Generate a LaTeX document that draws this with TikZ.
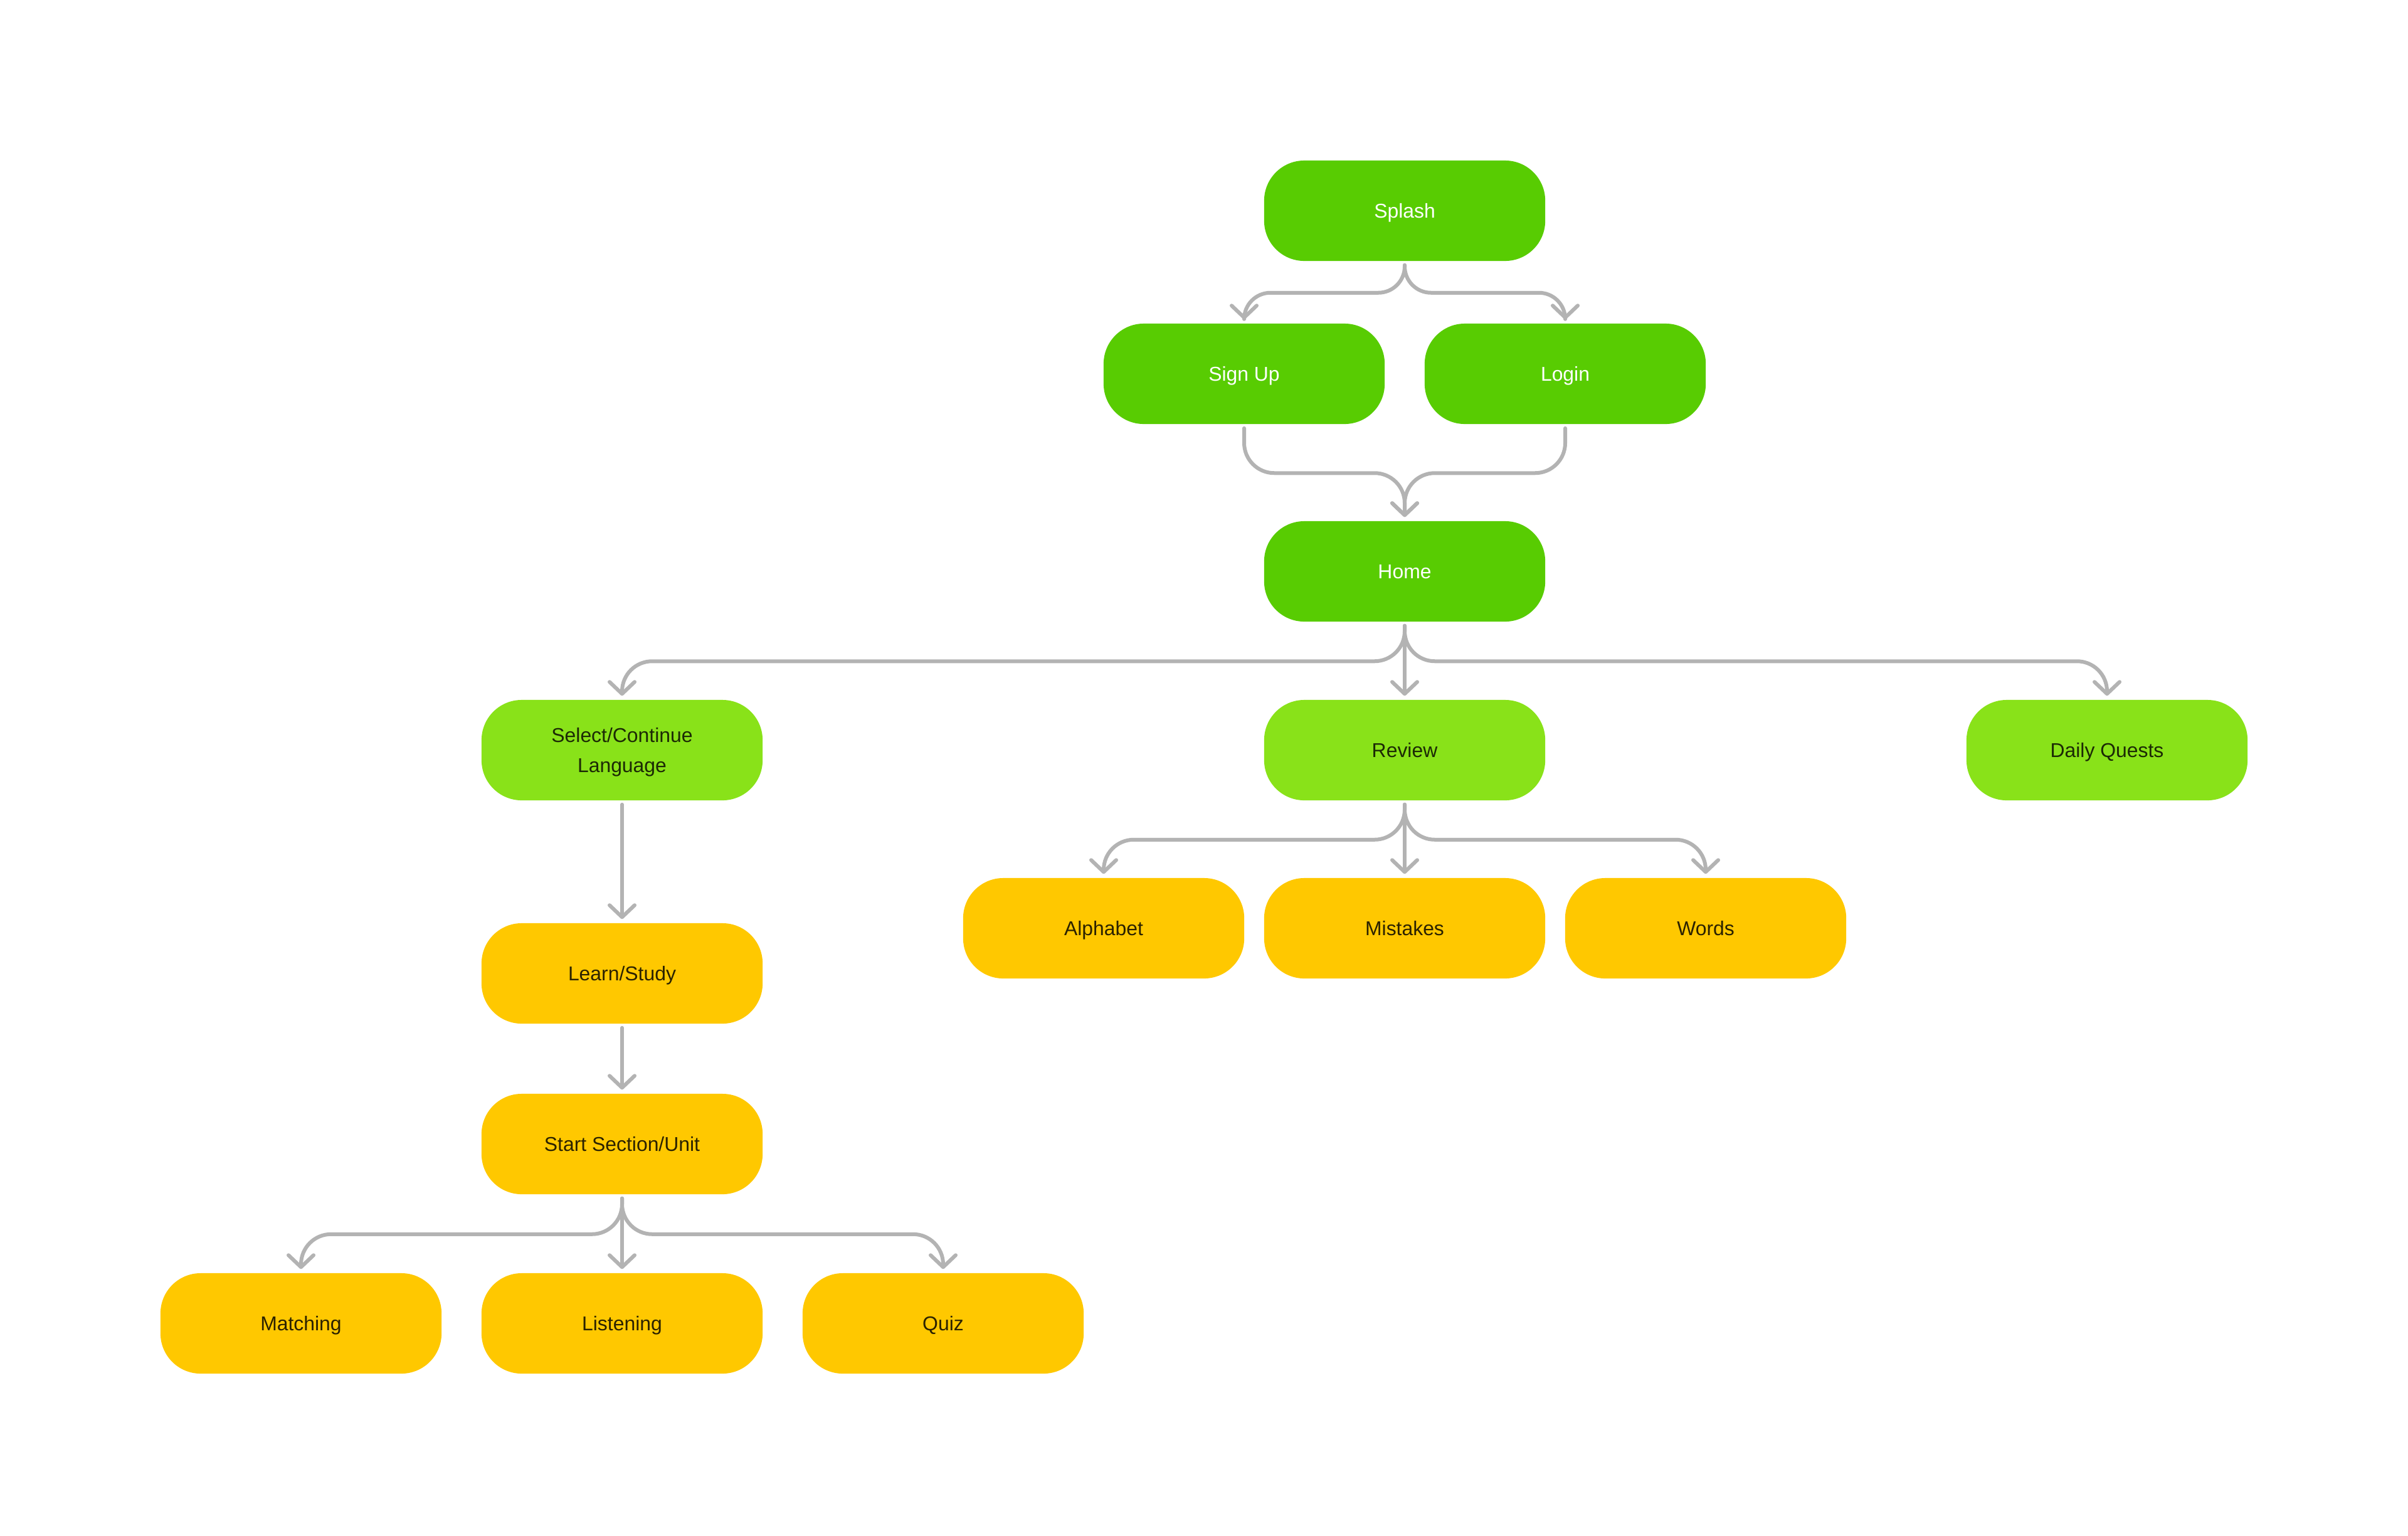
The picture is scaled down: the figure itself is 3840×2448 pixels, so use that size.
\documentclass[tikz,border=0pt]{standalone}
\usepackage{fontspec}
\setmainfont{Liberation Sans}
\usetikzlibrary{arrows.meta,calc}
\definecolor{dkgreen}{HTML}{58CC02}
\definecolor{ltgreen}{HTML}{89E219}
\definecolor{beeyel}{HTML}{FFC800}
\definecolor{conngray}{HTML}{B3B3B3}
\definecolor{dktext}{HTML}{1C2A05}
\definecolor{yltext}{HTML}{2B2200}
\tikzset{
  boxbase/.style={rectangle, rounded corners=0.64cm, minimum width=4.48cm, minimum height=1.6cm,
    inner sep=0pt, align=center, text height=6.5pt, text depth=0pt,
    font=\fontsize{9.07}{13.6}\selectfont},
  dkbox/.style={boxbase, fill=dkgreen, text=white},
  ltbox/.style={boxbase, fill=ltgreen, text=dktext},
  ylbox/.style={boxbase, fill=beeyel, text=yltext},
  conn/.style={draw=conngray, line width=0.06cm, line cap=round, line join=round,
    -{Straight Barb[round, length=0.19cm, width=0.40cm]}},
}
\newcommand{\branchto}[4]{\draw[conn, rounded corners=#4] ($(#1.south)+(0,6)$) -- ++(0,#3) -| ($(#2.north)+(0,-6)$);}
\newcommand{\straightto}[2]{\draw[conn] ($(#1.south)+(0,6)$) -- ($(#2.north)+(0,-6)$);}
\begin{document}
\begin{tikzpicture}[x=0.01cm, y=-0.01cm]
\useasboundingbox (0,0) rectangle (3840,2448);
% nodes
\node[dkbox] (splash) at (2240,336) {Splash};
\node[dkbox] (signup) at (1984,596) {Sign Up};
\node[dkbox] (login) at (2496,596) {Login};
\node[dkbox] (home) at (2240,911) {Home};
\node[ltbox, text height=20.1pt] (select) at (992,1196) {Select/Continue\\Language};
\node[ltbox] (review) at (2240,1196) {Review};
\node[ltbox] (daily) at (3360,1196) {Daily Quests};
\node[ylbox] (alphabet) at (1760,1480) {Alphabet};
\node[ylbox] (mistakes) at (2240,1480) {Mistakes};
\node[ylbox] (words) at (2720,1480) {Words};
\node[ylbox] (learn) at (992,1552) {Learn/Study};
\node[ylbox] (start) at (992,1824) {Start Section/Unit};
\node[ylbox] (matching) at (480,2110) {Matching};
\node[ylbox] (listening) at (992,2110) {Listening};
\node[ylbox] (quiz) at (1504,2110) {Quiz};
% connectors
\branchto{splash}{signup}{44}{0.42cm}
\branchto{splash}{login}{44}{0.42cm}
\branchto{signup}{home}{71.5}{0.48cm}
\branchto{login}{home}{71.5}{0.48cm}
\branchto{home}{select}{56.5}{0.48cm}
\straightto{home}{review}
\branchto{home}{daily}{56.5}{0.48cm}
\branchto{review}{alphabet}{56}{0.48cm}
\straightto{review}{mistakes}
\branchto{review}{words}{56}{0.48cm}
\straightto{select}{learn}
\straightto{learn}{start}
\branchto{start}{matching}{57}{0.48cm}
\straightto{start}{listening}
\branchto{start}{quiz}{57}{0.48cm}
\end{tikzpicture}
\end{document}
